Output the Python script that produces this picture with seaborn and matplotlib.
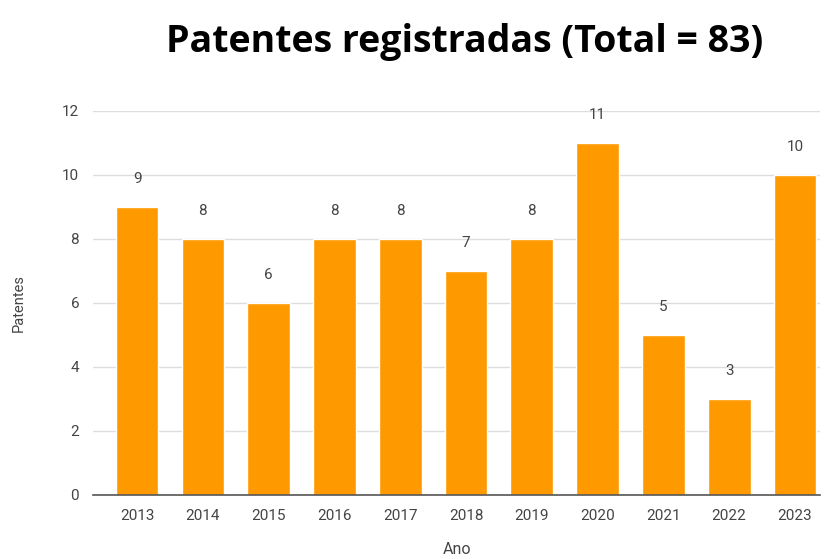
import matplotlib
matplotlib.use("Agg")
import matplotlib.pyplot as plt
import seaborn as sns
import pandas as pd

# dados
anos = ["2013", "2014", "2015", "2016", "2017", "2018", "2019", "2020", "2021", "2022", "2023"]
patentes = [9, 8, 6, 8, 8, 7, 8, 11, 5, 3, 10]
y_ticks = [0, 2, 4, 6, 8, 10, 12]
titulo = "Patentes registradas (Total = 83)"

sns.set_theme(style="white")
plt.rcParams["font.family"] = ["Roboto", "DejaVu Sans"]

df = pd.DataFrame({"Ano": anos, "Patentes": patentes})

fig = plt.figure(figsize=(8.27, 5.59), dpi=100)
ax = fig.add_axes([0.1125, 0.1145, 0.879, 0.687])

sns.barplot(data=df, x="Ano", y="Patentes", color="#FF9900", width=0.65,
            saturation=1, ax=ax, zorder=3)

# rótulos acima das barras
for i, v in enumerate(patentes):
    ax.annotate(str(v), (i, v), xytext=(0, 15), textcoords="offset points",
                ha="center", va="bottom", fontsize=11, color="#444444")

ax.set_ylim(0, 12)
ax.set_xlim(-0.67, 10.38)
ax.set_yticks(y_ticks)
ax.yaxis.grid(True, color="#dddddd", linewidth=1, zorder=0)
ax.tick_params(axis="both", length=0, labelsize=11, colors="#444444", pad=10)
for s in ["top", "right", "left"]:
    ax.spines[s].set_visible(False)
ax.spines["bottom"].set_color("#555555")
ax.spines["bottom"].set_linewidth(1.2)
ax.spines["bottom"].set_zorder(4)

ax.set_xlabel("Ano", fontsize=11.5, color="#444444", labelpad=14)
ax.set_ylabel("Patentes", fontsize=10.5, color="#444444", labelpad=26)

fig.text(0.562, 0.925, titulo, ha="center", va="center", fontsize=27,
         fontweight="bold", color="black", family=["Open Sans", "DejaVu Sans"])

fig.savefig("out.png", dpi=100)
